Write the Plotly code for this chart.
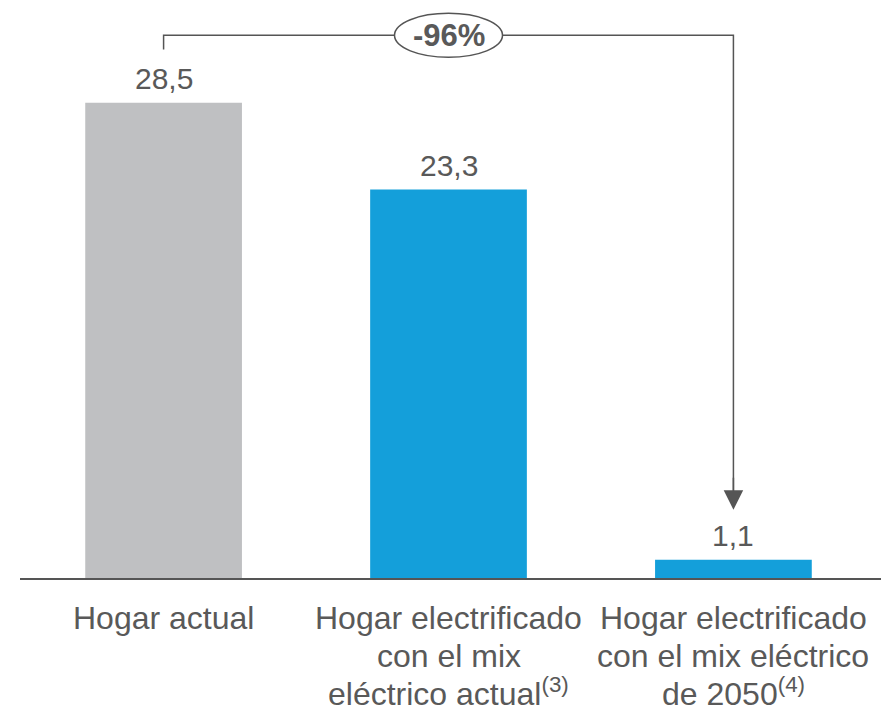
import plotly.graph_objects as go

# Household emissions by scenario
categories = [
    "Hogar actual",
    "Hogar electrificado<br>con el mix<br>eléctrico actual<sup>(3)</sup>",
    "Hogar electrificado<br>con el mix eléctrico<br>de 2050<sup>(4)</sup>",
]
values = [28.5, 23.3, 1.1]
bar_colors = ["#BFC0C2", "#149FDA", "#149FDA"]
change_label = "-96%"

TEXT = "#595959"
LINE = "#555555"
FONT = "Liberation Sans, Arial, sans-serif"

x_pos = list(range(len(values)))

fig = go.Figure(
    go.Bar(
        x=x_pos,
        y=values,
        width=0.55,
        marker=dict(color=bar_colors, line=dict(width=0)),
        hoverinfo="skip",
    )
)

bracket_y = 32.55
start_top = values[0] + 3.2
tip_y = values[2] + 3.0

shapes = [
    # bracket from the first bar across to the last
    dict(
        type="path",
        xref="x", yref="y",
        path=f"M {x_pos[0]},{start_top} L {x_pos[0]},{bracket_y} L {x_pos[2]},{bracket_y} L {x_pos[2]},{tip_y + 1.0}",
        line=dict(color=LINE, width=1.5),
        layer="above",
    ),
    # oval badge around the percentage
    dict(
        type="circle",
        xref="x", yref="y",
        xsizemode="pixel", ysizemode="pixel",
        xanchor=1.0, yanchor=bracket_y,
        x0=-54, x1=54, y0=-22, y1=22,
        fillcolor="white",
        line=dict(color=LINE, width=1.5),
        layer="above",
    ),
]

annotations = [
    dict(
        x=1.0, y=bracket_y, xref="x", yref="y",
        text=f"<b>{change_label}</b>",
        showarrow=False,
        font=dict(size=31, color=TEXT, family=FONT),
        xanchor="center", yanchor="middle",
    ),
    # arrow head pointing at the last bar
    dict(
        x=x_pos[2], y=tip_y, xref="x", yref="y",
        ax=x_pos[2], ay=tip_y + 2.0, axref="x", ayref="y",
        text="",
        showarrow=True,
        arrowhead=2, arrowsize=2.6, arrowwidth=1.5,
        arrowcolor=LINE,
    ),
]

# value labels above each bar, decimal comma
for xi, v in zip(x_pos, values):
    annotations.append(dict(
        x=xi, y=v, xref="x", yref="y",
        text=f"{v:.1f}".replace(".", ","),
        showarrow=False,
        font=dict(size=30, color=TEXT, family=FONT),
        xanchor="center", yanchor="bottom",
        yshift=6,
    ))

# category labels below the axis, one annotation per line
LINE_STEP = 38
for xi, label in zip(x_pos, categories):
    for k, part in enumerate(label.split("<br>")):
        annotations.append(dict(
            x=xi, y=0, xref="x", yref="paper",
            text=part,
            showarrow=False,
            font=dict(size=32, color=TEXT, family=FONT),
            xanchor="center", yanchor="bottom",
            yshift=-(60 + k * LINE_STEP),
        ))

fig.update_layout(
    width=881,
    height=710,
    margin=dict(l=20, r=0, t=0, b=132),
    paper_bgcolor="white",
    plot_bgcolor="white",
    showlegend=False,
    shapes=shapes,
    annotations=annotations,
    font=dict(family=FONT, color=TEXT),
)

fig.update_xaxes(
    range=[-0.504, 2.518],
    showticklabels=False,
    showline=True,
    linecolor=LINE,
    linewidth=2,
    showgrid=False,
    zeroline=False,
    ticks="",
)
fig.update_yaxes(
    range=[0, 34.67],
    visible=False,
    showgrid=False,
    zeroline=False,
)

fig.write_html("out.html")
